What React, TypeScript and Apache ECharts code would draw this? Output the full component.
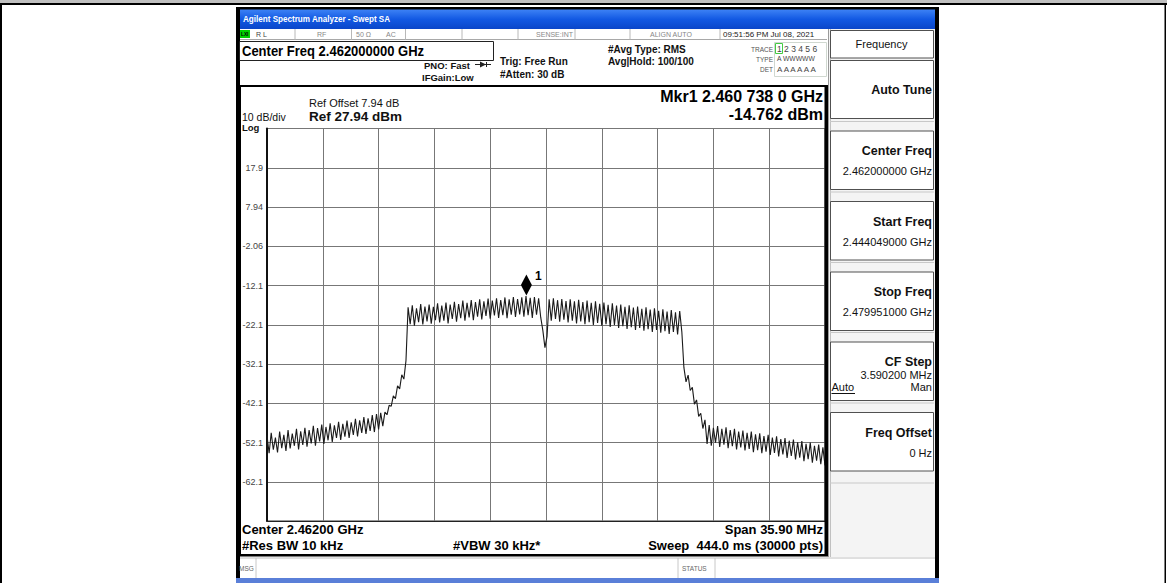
import React, { useEffect, useRef } from "react";
import * as echarts from "echarts";

// ---------- instrument settings ----------
const REF_LEVEL_DBM = 27.94;
const DB_PER_DIV = 10;
const SPAN_KHZ = 35900;
const START_OFFSET_KHZ = -17950; // offset from the 2.462 GHz center
const DIV_KHZ = 3590;

const lowerSkirt = [
  -50.2, -54.8, -49.6, -53.9, -50.8, -54.6, -49.3, -53.5, -50.1, -54.2,
  -48.9, -53.6, -49.8, -52.9, -48.6, -53.8, -49.2, -52.7, -48.3, -53.1,
  -48.9, -52.3, -47.8, -52.9, -48.4, -51.8, -47.5, -52.4, -48.1, -51.5,
  -47.2, -51.9, -47.7, -50.9, -46.8, -51.4, -47.3, -50.6, -46.5, -50.9,
  -46.9, -50.1, -46.0, -50.5, -46.4, -49.6, -45.6, -49.9, -45.9, -49.1,
  -45.1, -49.4, -44.8, -48.7, -44.5, -47.9,
];
const lowerEdge = [-44.3, -45.0, -42.6, -42.8, -40.2, -40.9, -37.6, -38.4, -34.8, -35.9, -31.2];
const inBandLower = [
  -17.6, -21.9, -17.1, -22.3, -17.9, -21.4, -16.8, -22.0, -17.4, -21.2,
  -16.9, -21.8, -17.5, -20.9, -16.6, -21.5, -17.2, -21.0, -16.4, -21.7,
  -16.9, -20.6, -16.2, -21.3, -16.8, -20.4, -15.9, -21.0, -16.5, -20.2,
  -15.8, -20.9, -16.3, -20.0, -15.6, -20.7, -16.1, -19.8, -15.4, -20.5,
  -15.9, -19.7, -15.3, -20.3, -15.8, -19.6, -15.1, -20.4, -15.6, -19.5,
  -15.0, -20.1, -15.5, -19.4, -15.1, -20.0, -14.762, -19.6, -15.2, -20.3,
  -15.0, -19.5, -15.3, -20.2,
];
const notch = [-23.5, -27.9, -25.0];
const inBandUpper = [
  -15.6, -21.0, -15.3, -20.6, -15.8, -21.3, -15.5, -20.8, -16.0, -21.5,
  -15.6, -21.0, -16.1, -21.7, -15.7, -21.2, -16.3, -21.9, -15.9, -21.4,
  -16.5, -22.1, -16.1, -21.6, -16.7, -22.3, -16.4, -21.9, -17.0, -22.6,
  -16.6, -22.1, -17.2, -22.9, -16.9, -22.4, -17.5, -23.1, -17.1, -22.7,
  -17.7, -23.4, -17.4, -22.9, -18.0, -23.6, -17.6, -23.2, -18.2, -23.9,
  -17.9, -23.4, -18.5, -24.1, -18.1, -23.7, -18.7, -24.4, -18.3, -23.9,
  -18.9, -24.5, -18.6, -23.8,
];
const upperEdge = [-33.0, -36.6, -34.9, -38.8, -38.0, -42.3, -41.2, -45.4, -44.6, -48.5, -46.3];
const upperSkirt = [
  -52.4, -47.6, -52.9, -48.3, -52.1, -47.9, -53.2, -48.6, -52.6, -48.2,
  -53.5, -48.9, -53.0, -48.6, -53.8, -49.3, -53.3, -49.0, -54.1, -49.6,
  -53.7, -49.3, -54.5, -50.0, -54.0, -49.7, -54.8, -50.4, -54.4, -50.1,
  -55.2, -50.8, -54.7, -50.5, -55.6, -51.2, -55.1, -50.9, -56.0, -51.6,
  -55.5, -51.3, -56.4, -52.0, -55.9, -51.7, -56.8, -52.4, -56.3, -52.1,
  -57.2, -52.9, -56.7, -52.6, -57.6, -53.3, -57.9,
];
const TRACE_DBM = [
  ...lowerSkirt, ...lowerEdge, ...inBandLower, ...notch, ...inBandUpper, ...upperEdge, ...upperSkirt,
];

const MARKER_OFFSET_KHZ = -1262; // 2.460 738 0 GHz
const MARKER_DBM = -14.762;

// ---------- texts ----------
const TITLE = "Agilent Spectrum Analyzer - Swept SA";
const SOFTKEYS = [
  { title: "Center Freq", value: "2.462000000 GHz" },
  { title: "Start Freq", value: "2.444049000 GHz" },
  { title: "Stop Freq", value: "2.479951000 GHz" },
  { title: "CF Step", value: "3.590200 MHz" },
  { title: "Freq Offset", value: "0 Hz" },
];

const FONT = "'Liberation Sans', Arial, Helvetica, sans-serif";

type TOpt = { bold?: boolean; color?: string; align?: string; sx?: number };
function txt(x: number, y: number, text: string, size: number, o: TOpt = {}) {
  const align = o.align || "left";
  return {
    type: "text",
    x,
    y,
    z: 50,
    scaleX: o.sx || 1,
    silent: true,
    style: {
      text,
      fill: o.color || "#000",
      font: `${o.bold ? "bold " : ""}${size}px ${FONT}`,
      align,
      textAlign: align,
      verticalAlign: "middle",
      textVerticalAlign: "middle",
    },
  };
}
function rect(x: number, y: number, w: number, h: number, fill: any, stroke?: string, lw = 1, z = 5) {
  return {
    type: "rect",
    z,
    silent: true,
    shape: { x, y, width: w, height: h },
    style: { fill, stroke: stroke || null, lineWidth: lw },
  };
}
function line(x1: number, y1: number, x2: number, y2: number, stroke: string, lw = 1, z = 6) {
  return { type: "line", z, silent: true, shape: { x1, y1, x2, y2 }, style: { stroke, lineWidth: lw } };
}

function buildGraphics() {
  const g: any[] = [];
  // outer frame
  g.push(rect(0, 0, 1167, 3, "#c0c0c0", undefined, 0, 1));
  g.push(rect(0, 3, 1167, 2, "#000", undefined, 0, 2));
  g.push(rect(0, 3, 2, 580, "#000", undefined, 0, 2));
  g.push(rect(1164.5, 3, 1.5, 580, "#000", undefined, 0, 2));
  // window borders
  g.push(rect(236, 7, 703, 3, "#000", undefined, 0, 2));
  g.push(rect(236, 7, 4, 576, "#000", undefined, 0, 2));
  g.push(rect(935, 7, 4, 576, "#000", undefined, 0, 2));
  g.push(rect(240, 9.5, 695, 19.5, new echarts.graphic.LinearGradient(0, 0, 0, 1, [
    { offset: 0, color: "#3d82f5" },
    { offset: 0.5, color: "#1259e3" },
    { offset: 1, color: "#0a46c9" },
  ]), undefined, 0, 2));
  g.push(txt(243, 19, TITLE, 9, { bold: true, color: "#fff", sx: 0.9 }));
  // status row
  g.push(line(240, 39.5, 827, 39.5, "#a8a8a8", 1));
  for (const sx of [295, 351.5, 405.5, 462, 518, 575, 630, 720]) g.push(line(sx, 29, sx, 39.5, "#b8b8b8", 1));
  g.push(rect(240, 30, 10, 8, "#00d000", undefined, 0, 6));
  g.push(txt(241, 34, "LXI", 6, { bold: true, color: "#000", sx: 0.8 }));
  g.push(txt(256, 34, "R L", 7, { color: "#444" }));
  g.push(txt(317, 34, "RF", 7, { color: "#888" }));
  g.push(txt(356, 34, "50 \u03A9", 7, { color: "#888" }));
  g.push(txt(386, 34, "AC", 7, { color: "#888" }));
  g.push(txt(573, 34, "SENSE:INT", 7, { color: "#888", align: "right" }));
  g.push(txt(650, 34, "ALIGN AUTO", 7, { color: "#888" }));
  g.push(txt(723, 34, "09:51:56 PM Jul 08, 2021", 8, { color: "#222" }));
  // header
  g.push(rect(239.5, 41.5, 254, 19, "none", "#222", 1, 6));
  g.push(txt(242, 51.5, "Center Freq 2.462000000 GHz", 14, { bold: true, sx: 0.93 }));
  g.push(txt(424, 65, "PNO: Fast", 9.5, { bold: true, color: "#111" }));
  g.push(txt(422, 77, "IFGain:Low", 9.5, { bold: true, color: "#111" }));
  g.push(line(475, 64.5, 491, 64.5, "#222", 1));
  g.push({ type: "polygon", z: 7, silent: true, shape: { points: [[480, 61.5], [486, 64.5], [480, 67.5]] }, style: { fill: "#222" } });
  g.push(line(486.5, 62, 486.5, 67, "#222", 1));
  g.push(txt(500, 61, "Trig: Free Run", 10, { bold: true, color: "#111" }));
  g.push(txt(500, 74, "#Atten: 30 dB", 10, { bold: true, color: "#111" }));
  g.push(txt(608, 49, "#Avg Type: RMS", 10, { bold: true, color: "#111" }));
  g.push(txt(608, 61, "Avg|Hold: 100/100", 10, { bold: true, color: "#111" }));
  // trace info box
  g.push(rect(774.5, 42.5, 52, 34, "none", "#d0d8d0", 1, 6));
  g.push(rect(775.5, 43.5, 7, 10, "none", "#44cc44", 1, 7));
  g.push(txt(773, 49, "TRACE", 6.5, { color: "#555", align: "right" }));
  g.push(txt(777, 49, "1 2 3 4 5 6", 8.5, { color: "#444" }));
  g.push(txt(773, 59, "TYPE", 6.5, { color: "#555", align: "right" }));
  g.push(txt(777, 59, "A WWWWW", 7.5, { color: "#444", sx: 0.9 }));
  g.push(txt(773, 69, "DET", 6.5, { color: "#555", align: "right" }));
  g.push(txt(777, 69, "A A A A A A", 8, { color: "#444" }));
  // display frame
  g.push(rect(236, 85, 592, 2, "#000", undefined, 0, 8));
  g.push(rect(236, 85, 5, 471, "#000", undefined, 0, 8));
  g.push(rect(824.5, 85, 3.5, 471, "#000", undefined, 0, 8));
  g.push(rect(236, 554, 592, 2.5, "#000", undefined, 0, 8));
  // display annotations
  g.push(txt(309, 103, "Ref Offset 7.94 dB", 11, { color: "#111" }));
  g.push(txt(309, 116, "Ref 27.94 dBm", 13.5, { bold: true, color: "#111" }));
  g.push(txt(242, 117, "10 dB/div", 10.5, { color: "#111" }));
  g.push(txt(242, 127.5, "Log", 9.5, { bold: true, color: "#111" }));
  g.push(txt(823, 96, "Mkr1 2.460 738 0 GHz", 16, { bold: true, align: "right" }));
  g.push(txt(823, 114, "-14.762 dBm", 16, { bold: true, align: "right" }));
  g.push(txt(242, 529, "Center 2.46200 GHz", 13, { bold: true }));
  g.push(txt(823, 529, "Span 35.90 MHz", 13, { bold: true, align: "right" }));
  g.push(txt(242, 545, "#Res BW 10 kHz", 13, { bold: true }));
  g.push(txt(453, 545, "#VBW 30 kHz*", 13, { bold: true }));
  g.push(txt(823, 545, "Sweep  444.0 ms (30000 pts)", 13, { bold: true, align: "right" }));
  // message strip
  g.push(line(240, 558, 935, 558, "#c0c0c0", 1));
  g.push(line(256, 558, 256, 578, "#c8c8c8", 1));
  g.push(line(678, 558, 678, 578, "#c8c8c8", 1));
  g.push(line(715, 558, 715, 578, "#c8c8c8", 1));
  g.push(txt(239, 568, "MSG", 6.5, { color: "#666" }));
  g.push(txt(682, 568, "STATUS", 6.5, { color: "#666" }));
  g.push(rect(236, 578, 703, 5, "#5a7fd8", undefined, 0, 9));
  // soft-key panel
  g.push(rect(828, 29, 107, 528, "#f4f4f4", undefined, 0, 3));
  g.push(line(828.5, 29, 828.5, 557, "#9a9a9a", 1));
  g.push(line(830.5, 29, 830.5, 557, "#c0c0c0", 1));
  g.push(rect(830.5, 30.5, 103, 27.5, "#fff", "#505050", 1, 6));
  g.push(txt(881.5, 44, "Frequency", 11, { color: "#111", align: "center" }));
  g.push(rect(830.5, 60.5, 103, 58, "#fff", "#505050", 1, 6));
  g.push(txt(932, 90, "Auto Tune", 12.5, { bold: true, color: "#111", align: "right" }));
  const keyTops = [131, 201.5, 272, 342, 412.5];
  SOFTKEYS.forEach((k, i) => {
    const top = keyTops[i];
    g.push(line(830, top - 9.5, 934, top - 9.5, "#c8c8c8", 1));
    g.push(rect(830.5, top, 103, 58.5, "#fff", "#505050", 1, 6));
    g.push(txt(932, top + 20, k.title, 12.5, { bold: true, color: "#111", align: "right" }));
    g.push(txt(932, top + (i === 3 ? 33 : 40), k.value, 11, { color: "#111", align: "right" }));
  });
  g.push(txt(831.5, 387, "Auto", 11, { color: "#111" }));
  g.push(line(831.5, 393.5, 855, 393.5, "#111", 1));
  g.push(txt(932, 387, "Man", 11, { color: "#111", align: "right" }));
  g.push(line(830, 483, 934, 483, "#c8c8c8", 1));
  return g;
}

export default function App() {
  const ref = useRef<HTMLDivElement>(null);
  useEffect(() => {
    if (!ref.current) return;
    const chart = echarts.init(ref.current, undefined, { renderer: "svg" });
    const step = SPAN_KHZ / (TRACE_DBM.length - 1);
    const data = TRACE_DBM.map((v, i) => [START_OFFSET_KHZ + i * step, v - REF_LEVEL_DBM]);
    chart.setOption({
      animation: false,
      backgroundColor: "#fff",
      grid: { left: 267, top: 128.5, width: 558, height: 392.5, show: true, borderColor: "#333", borderWidth: 1 },
      xAxis: {
        type: "value",
        min: START_OFFSET_KHZ,
        max: START_OFFSET_KHZ + SPAN_KHZ,
        interval: DIV_KHZ,
        axisLabel: { show: false },
        axisTick: { show: false },
        axisLine: { show: true, onZero: false, lineStyle: { color: "#222", width: 1 } },
        splitLine: { show: true, lineStyle: { color: "#777", width: 1 } },
      },
      yAxis: {
        type: "value",
        min: -10 * DB_PER_DIV,
        max: 0,
        interval: DB_PER_DIV,
        axisLabel: {
          show: true,
          showMinLabel: false,
          showMaxLabel: false,
          margin: 4,
          fontSize: 9,
          fontFamily: FONT,
          color: "#444",
          formatter: (v: number) => (v + REF_LEVEL_DBM).toPrecision(3),
        },
        axisTick: { show: false },
        axisLine: { show: true, onZero: false, lineStyle: { color: "#111", width: 2 } },
        splitLine: { show: true, lineStyle: { color: "#777", width: 1 } },
      },
      graphic: { elements: buildGraphics() },
      series: [
        {
          type: "line",
          data,
          showSymbol: false,
          symbol: "none",
          z: 3,
          lineStyle: { color: "#1a1a1a", width: 1.1 },
          markPoint: {
            silent: true,
            data: [
              {
                coord: [MARKER_OFFSET_KHZ, MARKER_DBM - REF_LEVEL_DBM],
                symbol: "diamond",
                symbolSize: [11, 21],
                symbolOffset: [0, -11],
                itemStyle: { color: "#000" },
                label: { show: true, formatter: "1", position: [14, -5], fontSize: 12, fontWeight: "bold", color: "#000", fontFamily: FONT },
              },
            ],
          },
        },
      ],
    });
    return () => chart.dispose();
  }, []);
  return <div ref={ref} style={{ position: "fixed", left: 0, top: 0, width: 1167, height: 583 }} />;
}
